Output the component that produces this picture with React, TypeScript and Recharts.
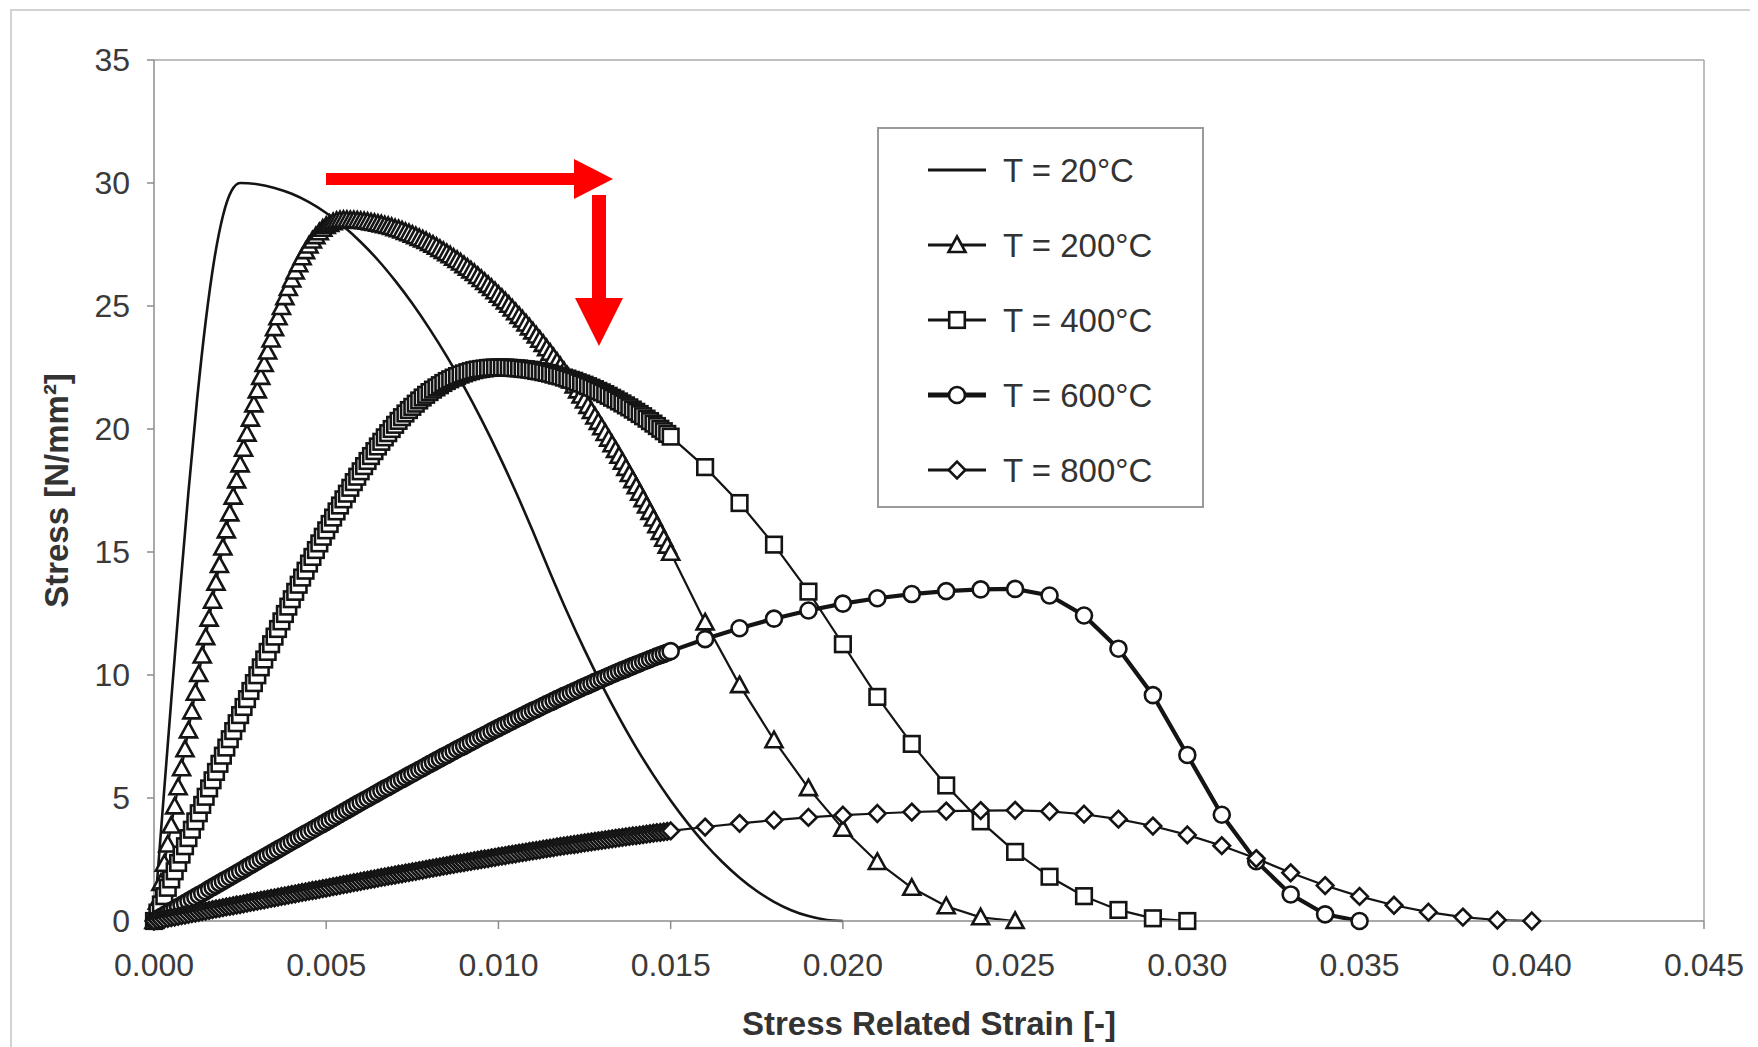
import { LineChart, Line, XAxis, YAxis, ReferenceLine } from "recharts";

// stress-strain curves of concrete at elevated temperature
// strain [-], stress [N/mm²]

// T = 20°C (plain line)
const strain20 = [
  0, 0.00025, 0.0005, 0.00075, 0.001, 0.00125, 0.0015, 0.00175, 0.002, 0.00225, 0.0025,
  0.003, 0.0035, 0.004, 0.0045, 0.005, 0.0055, 0.006, 0.0065, 0.007, 0.0075, 0.008,
  0.0085, 0.009, 0.0095, 0.01, 0.0105, 0.011, 0.0115, 0.012, 0.0125, 0.013, 0.0135,
  0.014, 0.0145, 0.015, 0.0155, 0.016, 0.0165, 0.017, 0.0175, 0.018, 0.0185, 0.019,
  0.0195, 0.02,
];
const stress20 = [
  0, 4.5, 8.96, 13.32, 17.44, 21.18, 24.37, 26.89, 28.66, 29.68, 30.0,
  29.95, 29.8, 29.56, 29.22, 28.78, 28.24, 27.6, 26.87, 26.03, 25.1, 24.07,
  22.95, 21.72, 20.4, 18.98, 17.46, 15.84, 14.16, 12.54, 11.02, 9.6, 8.28,
  7.05, 5.93, 4.9, 3.97, 3.13, 2.4, 1.76, 1.22, 0.78, 0.44, 0.2,
  0.05, 0,
];

// the marked series are read every 0.0001 up to 0.015, then every 0.001
const fineStep = 0.0001;
const strainCoarse = [
  0.016, 0.017, 0.018, 0.019, 0.02, 0.021, 0.022, 0.023, 0.024, 0.025, 0.026, 0.027,
  0.028, 0.029, 0.03, 0.031, 0.032, 0.033, 0.034, 0.035, 0.036, 0.037, 0.038, 0.039, 0.04,
];

const stress200Fine = [
  0, 0.78, 1.55, 2.33, 3.11, 3.88, 4.66, 5.44, 6.21, 6.98,
  7.75, 8.52, 9.28, 10.04, 10.79, 11.54, 12.29, 13.02, 13.75, 14.47,
  15.18, 15.88, 16.57, 17.25, 17.91, 18.56, 19.2, 19.81, 20.42, 21.0,
  21.57, 22.12, 22.64, 23.15, 23.64, 24.1, 24.54, 24.96, 25.36, 25.73,
  26.08, 26.4, 26.7, 26.98, 27.23, 27.46, 27.66, 27.84, 28.0, 28.14,
  28.25, 28.34, 28.41, 28.46, 28.49, 28.5, 28.5, 28.49, 28.49, 28.48,
  28.46, 28.45, 28.43, 28.4, 28.38, 28.35, 28.32, 28.28, 28.25, 28.21,
  28.16, 28.12, 28.07, 28.01, 27.96, 27.9, 27.84, 27.77, 27.71, 27.64,
  27.56, 27.49, 27.41, 27.32, 27.24, 27.15, 27.06, 26.96, 26.87, 26.77,
  26.66, 26.56, 26.45, 26.34, 26.22, 26.1, 25.98, 25.86, 25.73, 25.6,
  25.46, 25.33, 25.19, 25.05, 24.9, 24.75, 24.6, 24.45, 24.29, 24.13,
  23.97, 23.8, 23.63, 23.46, 23.28, 23.1, 22.92, 22.74, 22.55, 22.36,
  22.17, 21.97, 21.77, 21.57, 21.36, 21.16, 20.94, 20.73, 20.51, 20.29,
  20.07, 19.84, 19.61, 19.38, 19.15, 18.91, 18.67, 18.42, 18.17, 17.92,
  17.67, 17.41, 17.15, 16.89, 16.63, 16.36, 16.09, 15.81, 15.54, 15.26,
  14.97,
];
const stress200Coarse = [12.14, 9.59, 7.35, 5.4, 3.75, 2.4, 1.35, 0.6, 0.15, 0];

const stress400Fine = [
  0, 0.34, 0.67, 1.01, 1.35, 1.69, 2.02, 2.36, 2.7, 3.04,
  3.37, 3.71, 4.05, 4.38, 4.72, 5.05, 5.39, 5.72, 6.06, 6.39,
  6.72, 7.05, 7.39, 7.72, 8.04, 8.37, 8.7, 9.02, 9.35, 9.67,
  9.99, 10.31, 10.63, 10.94, 11.25, 11.56, 11.87, 12.18, 12.48, 12.78,
  13.08, 13.38, 13.67, 13.96, 14.24, 14.53, 14.8, 15.08, 15.35, 15.62,
  15.88, 16.14, 16.4, 16.65, 16.89, 17.14, 17.37, 17.61, 17.84, 18.06,
  18.28, 18.49, 18.7, 18.9, 19.1, 19.29, 19.48, 19.66, 19.83, 20.0,
  20.17, 20.33, 20.48, 20.63, 20.77, 20.9, 21.03, 21.16, 21.28, 21.39,
  21.5, 21.6, 21.69, 21.78, 21.87, 21.95, 22.02, 22.09, 22.15, 22.21,
  22.26, 22.31, 22.35, 22.39, 22.42, 22.44, 22.46, 22.48, 22.49, 22.5,
  22.5, 22.5, 22.5, 22.49, 22.48, 22.47, 22.46, 22.44, 22.43, 22.41,
  22.39, 22.36, 22.34, 22.31, 22.28, 22.25, 22.21, 22.17, 22.14, 22.09,
  22.05, 22.0, 21.96, 21.9, 21.85, 21.8, 21.74, 21.68, 21.62, 21.55,
  21.49, 21.42, 21.35, 21.27, 21.2, 21.12, 21.04, 20.96, 20.88, 20.79,
  20.7, 20.61, 20.52, 20.42, 20.32, 20.22, 20.12, 20.01, 19.91, 19.8,
  19.69,
];
const stress400Coarse = [
  18.45, 16.99, 15.3, 13.39, 11.25, 9.11, 7.2, 5.51, 4.05, 2.81, 1.8, 1.01, 0.45, 0.11, 0,
];

const stress600Fine = [
  0, 0.08, 0.16, 0.24, 0.32, 0.41, 0.49, 0.57, 0.65, 0.73,
  0.81, 0.89, 0.97, 1.05, 1.13, 1.21, 1.3, 1.38, 1.46, 1.54,
  1.62, 1.7, 1.78, 1.86, 1.94, 2.02, 2.1, 2.19, 2.27, 2.35,
  2.43, 2.51, 2.59, 2.67, 2.75, 2.83, 2.91, 2.99, 3.07, 3.15,
  3.23, 3.31, 3.39, 3.47, 3.55, 3.63, 3.71, 3.79, 3.87, 3.95,
  4.03, 4.11, 4.19, 4.27, 4.35, 4.43, 4.51, 4.59, 4.67, 4.75,
  4.83, 4.91, 4.98, 5.06, 5.14, 5.22, 5.3, 5.38, 5.45, 5.53,
  5.61, 5.69, 5.76, 5.84, 5.92, 5.99, 6.07, 6.15, 6.22, 6.3,
  6.38, 6.45, 6.53, 6.6, 6.68, 6.75, 6.83, 6.9, 6.98, 7.05,
  7.12, 7.2, 7.27, 7.34, 7.42, 7.49, 7.56, 7.63, 7.71, 7.78,
  7.85, 7.92, 7.99, 8.06, 8.13, 8.2, 8.27, 8.34, 8.41, 8.48,
  8.55, 8.61, 8.68, 8.75, 8.82, 8.88, 8.95, 9.02, 9.08, 9.15,
  9.21, 9.28, 9.34, 9.4, 9.47, 9.53, 9.59, 9.65, 9.72, 9.78,
  9.84, 9.9, 9.96, 10.02, 10.08, 10.14, 10.2, 10.25, 10.31, 10.37,
  10.42, 10.48, 10.54, 10.59, 10.65, 10.7, 10.76, 10.81, 10.86, 10.91,
  10.97,
];
const stress600Coarse = [
  11.46, 11.9, 12.29, 12.62, 12.9, 13.12, 13.29, 13.41, 13.48, 13.5,
  13.23, 12.42, 11.07, 9.18, 6.75, 4.32, 2.43, 1.08, 0.27, 0,
];

const stress800Fine = [
  0, 0.03, 0.05, 0.08, 0.11, 0.14, 0.16, 0.19, 0.22, 0.24,
  0.27, 0.3, 0.32, 0.35, 0.38, 0.4, 0.43, 0.46, 0.49, 0.51,
  0.54, 0.57, 0.59, 0.62, 0.65, 0.67, 0.7, 0.73, 0.76, 0.78,
  0.81, 0.84, 0.86, 0.89, 0.92, 0.94, 0.97, 1.0, 1.02, 1.05,
  1.08, 1.1, 1.13, 1.16, 1.18, 1.21, 1.24, 1.26, 1.29, 1.32,
  1.34, 1.37, 1.4, 1.42, 1.45, 1.48, 1.5, 1.53, 1.56, 1.58,
  1.61, 1.64, 1.66, 1.69, 1.71, 1.74, 1.77, 1.79, 1.82, 1.84,
  1.87, 1.9, 1.92, 1.95, 1.97, 2.0, 2.02, 2.05, 2.07, 2.1,
  2.13, 2.15, 2.18, 2.2, 2.23, 2.25, 2.28, 2.3, 2.33, 2.35,
  2.37, 2.4, 2.42, 2.45, 2.47, 2.5, 2.52, 2.54, 2.57, 2.59,
  2.62, 2.64, 2.66, 2.69, 2.71, 2.73, 2.76, 2.78, 2.8, 2.83,
  2.85, 2.87, 2.89, 2.92, 2.94, 2.96, 2.98, 3.01, 3.03, 3.05,
  3.07, 3.09, 3.11, 3.13, 3.16, 3.18, 3.2, 3.22, 3.24, 3.26,
  3.28, 3.3, 3.32, 3.34, 3.36, 3.38, 3.4, 3.42, 3.44, 3.46,
  3.47, 3.49, 3.51, 3.53, 3.55, 3.57, 3.59, 3.6, 3.62, 3.64,
  3.66,
];
const stress800Coarse = [
  3.82, 3.97, 4.1, 4.21, 4.3, 4.37, 4.43, 4.47, 4.49, 4.5, 4.46, 4.34, 4.14,
  3.86, 3.5, 3.06, 2.54, 1.96, 1.44, 1.0, 0.64, 0.36, 0.16, 0.04, 0,
];

const xTicks = [0, 0.005, 0.01, 0.015, 0.02, 0.025, 0.03, 0.035, 0.04, 0.045];
const yTicks = [0, 5, 10, 15, 20, 25, 30, 35];

const INK = "#141414";
const AXIS = "#8c8c8c";
const FONT = "'Liberation Sans', Arial, Helvetica, sans-serif";

const toPoints = (fine: number[], coarse: number[]) => [
  ...fine.map((y, i) => ({ x: +(i * fineStep).toFixed(4), y })),
  ...coarse.map((y, i) => ({ x: strainCoarse[i], y })),
];

type Shape = "triangle" | "square" | "circle" | "diamond" | null;

const series: { name: string; data: { x: number; y: number }[]; shape: Shape; width: number }[] = [
  { name: "T = 20°C", data: strain20.map((x, i) => ({ x, y: stress20[i] })), shape: null, width: 2.6 },
  { name: "T = 200°C", data: toPoints(stress200Fine, stress200Coarse), shape: "triangle", width: 2.2 },
  { name: "T = 400°C", data: toPoints(stress400Fine, stress400Coarse), shape: "square", width: 2.2 },
  { name: "T = 600°C", data: toPoints(stress600Fine, stress600Coarse), shape: "circle", width: 4.2 },
  { name: "T = 800°C", data: toPoints(stress800Fine, stress800Coarse), shape: "diamond", width: 2.2 },
];

const Marker = ({ shape, cx, cy }: { shape: Shape; cx: number; cy: number }) => {
  const st = { fill: "#fff", stroke: INK, strokeWidth: 2.6 };
  if (shape === "triangle")
    return <path d={`M${cx} ${cy - 8.5}L${cx + 8.5} ${cy + 7}L${cx - 8.5} ${cy + 7}Z`} {...st} />;
  if (shape === "square") return <rect x={cx - 7.8} y={cy - 7.8} width={15.6} height={15.6} {...st} />;
  if (shape === "circle") return <circle cx={cx} cy={cy} r={8} {...st} />;
  if (shape === "diamond")
    return <path d={`M${cx} ${cy - 8.3}L${cx + 8.3} ${cy}L${cx} ${cy + 8.3}L${cx - 8.3} ${cy}Z`} {...st} />;
  return null;
};

const LegendBox = () => (
  <svg width={328} height={382} style={{ position: "absolute", left: 869, top: 119 }}>
    <rect x={1} y={1} width={325} height={379} fill="#fff" stroke="#9a9a9a" strokeWidth={2} />
    {series.map((s, i) => {
      const y = 43 + i * 75;
      return (
        <g key={s.name}>
          <line x1={51} x2={109} y1={y} y2={y} stroke={INK} strokeWidth={s.width + 0.6} />
          {s.shape && <Marker shape={s.shape} cx={80} cy={y} />}
          <text x={126} y={y} dy="0.36em" fontSize={33} fontFamily={FONT} fill="#333">
            {s.name}
          </text>
        </g>
      );
    })}
  </svg>
);

const Arrows = () => (
  <svg width={1750} height={1039} style={{ position: "absolute", left: 0, top: 0, pointerEvents: "none" }}>
    <rect x={3} y={2} width={1741} height={1100} fill="none" stroke="#c4c4c4" strokeWidth={1.5} />
    <rect x={318} y={165} width={252} height={12} fill="#ff0000" />
    <path d="M566 151 L605 171 L566 191 Z" fill="#ff0000" />
    <rect x={584} y={187} width={14} height={105} fill="#ff0000" />
    <path d="M567 290 L615 290 L591 338 Z" fill="#ff0000" />
  </svg>
);

export default function App() {
  return (
    <div style={{ position: "relative", width: 1750, height: 1039, overflow: "hidden", background: "#fff" }}>
      <LineChart
        width={1742}
        height={1039}
        margin={{ top: 52, right: 46, bottom: 66, left: 20 }}
      >
        <XAxis
          dataKey="x"
          type="number"
          domain={[0, 0.045]}
          ticks={xTicks}
          tickFormatter={(v: number) => v.toFixed(3)}
          height={60}
          stroke={AXIS}
          strokeWidth={1.5}
          tickSize={8}
          tickMargin={24}
          tick={{ fontSize: 32, fill: "#3a3a3a", fontFamily: FONT }}
          label={{
            value: "Stress Related Strain [-]",
            position: "bottom",
            offset: 31,
            style: { fontSize: 33, fontWeight: 700, fill: "#333", fontFamily: FONT },
          }}
        />
        <YAxis
          type="number"
          domain={[0, 35]}
          ticks={yTicks}
          width={126}
          stroke={AXIS}
          strokeWidth={1.5}
          tickSize={7}
          tickMargin={17}
          tick={{ fontSize: 32, fill: "#3a3a3a", fontFamily: FONT }}
          label={{
            value: "Stress [N/mm²]",
            angle: -90,
            position: "insideLeft",
            offset: 28,
            style: { fontSize: 33, fontWeight: 700, fill: "#333", fontFamily: FONT, textAnchor: "middle" },
          }}
        />
        <ReferenceLine y={35} stroke="#a8a8a8" strokeWidth={1.5} />
        <ReferenceLine x={0.045} stroke="#a8a8a8" strokeWidth={1.5} />
        {series.map((s) => (
          <Line
            key={s.name}
            data={s.data}
            dataKey="y"
            name={s.name}
            type={s.shape ? "linear" : "monotone"}
            stroke={INK}
            strokeWidth={s.width}
            dot={
              s.shape
                ? (p: any) => <Marker key={`${s.name}-${p.index}`} shape={s.shape} cx={p.cx} cy={p.cy} />
                : false
            }
            activeDot={false}
            isAnimationActive={false}
          />
        ))}
      </LineChart>
      <LegendBox />
      <Arrows />
    </div>
  );
}
